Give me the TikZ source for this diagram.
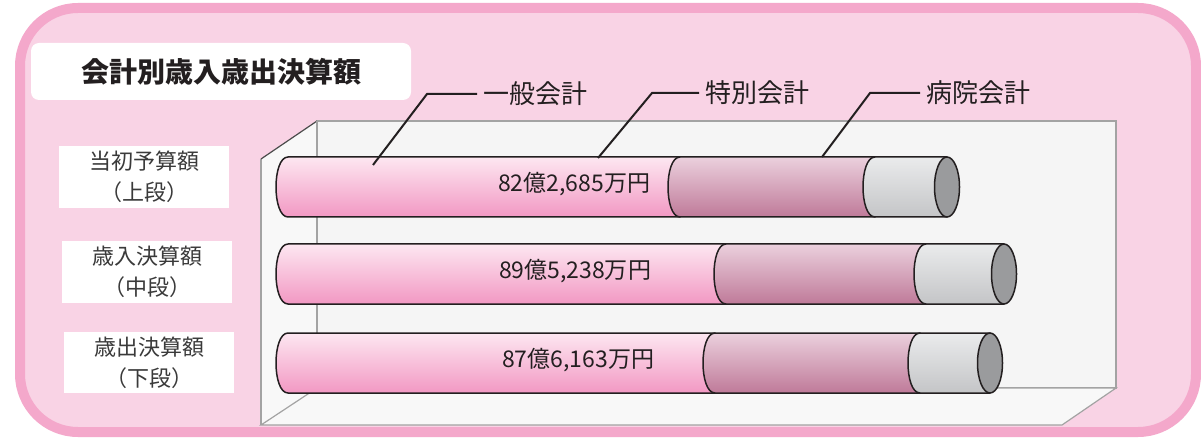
\documentclass[tikz,border=0pt]{standalone}
\usepackage{fontspec}
\newfontfamily\jp{Noto Sans CJK JP}
\definecolor{bgpink}{HTML}{F9D3E5}
\definecolor{framepink}{HTML}{F4A8CB}
\definecolor{pinktop}{HTML}{FDE7F1}
\definecolor{pinkbot}{HTML}{F298C3}
\definecolor{mauvetop}{HTML}{EBD0DD}
\definecolor{mauvebot}{HTML}{BF7A99}
\definecolor{graytop}{HTML}{EAEBEC}
\definecolor{graybot}{HTML}{C4C5C7}
\definecolor{capgray}{HTML}{9A9B9D}
\definecolor{panel}{HTML}{F5F5F5}
\definecolor{wall}{HTML}{F8F8F8}
\definecolor{edge}{HTML}{A3A3A3}
\definecolor{ink}{HTML}{231F20}
\definecolor{labtext}{HTML}{3A3A3A}
\tikzset{
  barline/.style={draw=ink, line width=1.5pt, line join=round},
  leader/.style={draw=ink, line width=2pt},
  rowlabel/.style={fill=white, minimum width=170pt, minimum height=62pt, align=center,
    text=labtext, font=\jp\fontsize{22}{31}\selectfont, inner sep=0pt},
  legendlabel/.style={anchor=west, inner xsep=6pt, inner ysep=0pt, text=ink,
    font=\jp\fontsize{26}{30}\selectfont},
  valuelabel/.style={text=ink, font=\jp\fontsize{23}{26}\selectfont, inner sep=0pt}
}
\newcommand\cylseg[5]{%
  \draw[barline, top color=#4, bottom color=#5]
    (#2,#1-30) .. controls (#2-16,#1-30) and (#2-16,#1+30) .. (#2,#1+30)
    -- (#3,#1+30) -- (#3,#1-30) -- cycle;}
\newcommand\cylbar[5]{% yc, x pink/mauve, x mauve/gray, x cap, name
  \cylseg{#1}{288}{#2}{pinktop}{pinkbot}
  \cylseg{#1}{#2}{#3}{mauvetop}{mauvebot}
  \cylseg{#1}{#3}{#4}{graytop}{graybot}
  \draw[barline, fill=capgray] (#4,#1) ellipse [x radius=12.5, y radius=30];
  \coordinate (#5) at (#4,#1);}
\begin{document}
\begin{tikzpicture}[x=1pt, y=-1pt]
\useasboundingbox (0,0) rectangle (1201,438);
\fill[white] (0,0) rectangle (1201,438);
% outer frame
\draw[line width=10pt, draw=framepink, fill=bgpink, rounded corners=58pt] (20,8) rectangle (1196,432);
% title
\node (title) [fill=white, rounded corners=8pt, minimum width=380pt, minimum height=57pt,
  inner sep=0pt, font=\jp\bfseries\fontsize{28}{32}\selectfont, text=ink] at (221,71.5) {会計別歳入歳出決算額};
% row labels
\node (row1) [rowlabel] at (144,177) {当初予算額\\（上段）};
\node (row2) [rowlabel] at (147,272) {歳入決算額\\（中段）};
\node (row3) [rowlabel, minimum height=61pt] at (149,362.5) {歳出決算額\\（下段）};
% 3D chart box
\draw[draw=edge, fill=panel, line width=1.2pt] (317,121) rectangle (1116,388);
\fill[wall] (261,159) -- (317,121) -- (317,388) -- (261,425) -- cycle;
\draw[edge, line width=1.2pt] (261,425) -- (261,159);
\draw[draw=black!70, line width=1.2pt] (261,159) -- (317,121);
\draw[edge, line width=1.2pt] (317,121) -- (317,388);
\draw[draw=edge, fill=wall, line width=1.2pt] (261,425) -- (317,388) -- (1116,388) -- (1062,425) -- cycle;
% cylinders
\cylbar{187}{680}{875}{947}{end1}
\cylbar{274}{726}{926}{1004}{end2}
\cylbar{363}{715}{920}{990}{end3}
\node (val1) [valuelabel] at (574,184) {82億2,685万円};
\node (val2) [valuelabel] at (575,271) {89億5,238万円};
\node (val3) [valuelabel] at (578,360) {87億6,163万円};
% legend leaders
\node (lab1) [legendlabel] at (477,94) {一般会計};
\node (lab2) [legendlabel] at (699,93) {特別会計};
\node (lab3) [legendlabel] at (920,93) {病院会計};
\coordinate (p1) at (373,165);
\coordinate (k1) at (427,94);
\coordinate (p2) at (598,158);
\coordinate (k2) at (652,93);
\coordinate (p3) at (822,157);
\coordinate (k3) at (870,93);
\draw[leader] (p1) -- (k1) -- (lab1.west);
\draw[leader] (p2) -- (k2) -- (lab2.west);
\draw[leader] (p3) -- (k3) -- (lab3.west);
\end{tikzpicture}
\end{document}
